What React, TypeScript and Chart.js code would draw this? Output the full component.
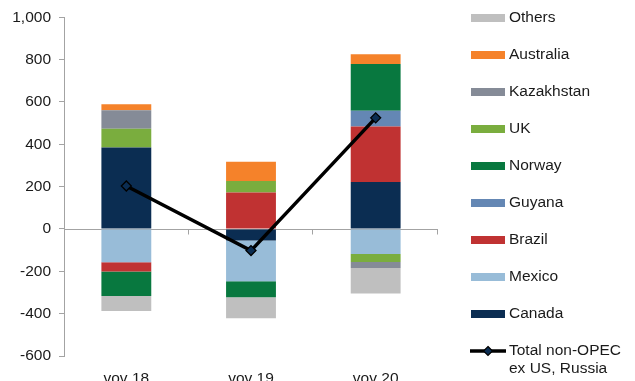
import { useEffect, useRef } from "react";
import { Chart, registerables } from "chart.js";

Chart.register(...registerables);

// Year-over-year change by country (kb/d)
const categories = ["vov 18", "vov 19", "vov 20"];
const canada = [385, -54, 222];
const mexico = [-157, -193, -118];
const brazil = [-44, 172, 262];
const guyana = [0, 0, 75];
const norway = [-115, -75, 220];
const uk = [88, 55, -38];
const kazakhstan = [88, 0, -28];
const australia = [28, 91, 47];
const others = [-71, -100, -121];
const totalNonOpec = [203, -102, 525];

const yTicks = [-600, -400, -200, 0, 200, 400, 600, 800, 1000];

const COLORS = {
  canada: "#0b2d52",
  mexico: "#98bcd8",
  brazil: "#c03232",
  guyana: "#6487b4",
  norway: "#08783f",
  uk: "#7aad3e",
  kazakhstan: "#858b97",
  australia: "#f5822a",
  others: "#bfbfbf",
};

const FONT = "Liberation Sans, Arial, sans-serif";
const FONT_SIZE = 15.5;
const TEXT = "#1a1a1a";
const AXIS = "#a3a3a3";

const barSeries = [
  { label: "Canada", data: canada, color: COLORS.canada },
  { label: "Mexico", data: mexico, color: COLORS.mexico },
  { label: "Brazil", data: brazil, color: COLORS.brazil },
  { label: "Guyana", data: guyana, color: COLORS.guyana },
  { label: "Norway", data: norway, color: COLORS.norway },
  { label: "UK", data: uk, color: COLORS.uk },
  { label: "Kazakhstan", data: kazakhstan, color: COLORS.kazakhstan },
  { label: "Australia", data: australia, color: COLORS.australia },
  { label: "Others", data: others, color: COLORS.others },
];

// Zero line across the plot with small category divider ticks
const zeroLinePlugin = {
  id: "zeroLine",
  beforeDatasetsDraw(chart: any) {
    const { ctx, chartArea, scales } = chart;
    const y0 = Math.round(scales.y.getPixelForValue(0)) + 0.5;
    ctx.save();
    ctx.strokeStyle = AXIS;
    ctx.lineWidth = 1;
    ctx.beginPath();
    ctx.moveTo(chartArea.left, y0);
    ctx.lineTo(chartArea.right, y0);
    const n = categories.length;
    const step = (chartArea.right - chartArea.left) / n;
    for (let i = 1; i <= n; i++) {
      const x = Math.round(chartArea.left + step * i) - 0.5;
      ctx.moveTo(x, y0);
      ctx.lineTo(x, y0 + 5);
    }
    ctx.stroke();
    ctx.restore();
  },
};

// Legend drawn at the right, top to bottom
const legendPlugin = {
  id: "sideLegend",
  afterDraw(chart: any) {
    const { ctx } = chart;
    const x0 = 471;
    const sw = 34;
    const tx = 509;
    const top = 18;
    const gap = 37;
    const items = [...barSeries].reverse();
    ctx.save();
    ctx.font = `${FONT_SIZE}px ${FONT}`;
    ctx.textBaseline = "middle";
    ctx.fillStyle = TEXT;
    items.forEach((it, i) => {
      const y = top + gap * i;
      ctx.fillStyle = it.color;
      ctx.fillRect(x0, y - 4, sw, 8);
      ctx.fillStyle = TEXT;
      ctx.fillText(it.label, tx, y);
    });
    const yl = top + gap * items.length;
    ctx.strokeStyle = "#000";
    ctx.lineWidth = 3.5;
    ctx.beginPath();
    ctx.moveTo(x0 - 1, yl);
    ctx.lineTo(x0 + sw + 1, yl);
    ctx.stroke();
    const cx = x0 + sw / 2;
    const r = 4.5;
    ctx.beginPath();
    ctx.moveTo(cx, yl - r);
    ctx.lineTo(cx + r, yl);
    ctx.lineTo(cx, yl + r);
    ctx.lineTo(cx - r, yl);
    ctx.closePath();
    ctx.fillStyle = COLORS.canada;
    ctx.fill();
    ctx.lineWidth = 1.2;
    ctx.stroke();
    ctx.fillStyle = TEXT;
    ctx.fillText("Total non-OPEC", tx, yl);
    ctx.fillText("ex US, Russia", tx, yl + 18);
    ctx.restore();
  },
};

export default function App() {
  const ref = useRef<HTMLCanvasElement | null>(null);

  useEffect(() => {
    if (!ref.current) return;
    const chart = new Chart(ref.current, {
      type: "bar",
      data: {
        labels: categories,
        datasets: [
          {
            type: "line",
            label: "Total non-OPEC ex US, Russia",
            data: totalNonOpec,
            borderColor: "#000",
            borderWidth: 3.5,
            pointStyle: "rectRot",
            pointRadius: 5,
            pointBackgroundColor: COLORS.canada,
            pointBorderColor: "#000",
            pointBorderWidth: 1.3,
            stack: "total",
            order: 0,
            tension: 0,
          } as any,
          ...barSeries.map((s) => ({
            type: "bar",
            label: s.label,
            data: s.data,
            backgroundColor: s.color,
            borderWidth: 0,
            stack: "countries",
            order: 1,
            categoryPercentage: 0.4,
            barPercentage: 1,
          })),
        ],
      },
      options: {
        responsive: false,
        animation: false,
        layout: { padding: { top: 17, right: 197, bottom: 0, left: 0 } },
        plugins: {
          legend: { display: false },
          tooltip: { enabled: false },
        },
        scales: {
          x: {
            stacked: true,
            grid: { display: false },
            border: { display: false },
            ticks: {
              color: TEXT,
              font: { family: FONT, size: FONT_SIZE },
              padding: 5,
              maxRotation: 0,
            },
            afterFit(scale: any) {
              scale.height = 25;
            },
          },
          y: {
            stacked: true,
            min: -600,
            max: 1000,
            afterBuildTicks(scale: any) {
              scale.ticks = yTicks.map((v) => ({ value: v }));
            },
            grid: {
              drawOnChartArea: false,
              drawTicks: true,
              tickLength: 5,
              color: AXIS,
            },
            border: { display: true, color: AXIS },
            ticks: {
              color: TEXT,
              font: { family: FONT, size: FONT_SIZE },
              padding: 8,
              callback: (v: any) => Number(v).toLocaleString("en-US"),
            },
            afterFit(scale: any) {
              scale.width = 64;
            },
          },
        },
      },
      plugins: [zeroLinePlugin, legendPlugin],
    });
    return () => chart.destroy();
  }, []);

  return (
    <div style={{ position: "fixed", left: 0, top: 0, width: 635, height: 381, background: "#fff" }}>
      <canvas ref={ref} width={635} height={381} style={{ display: "block" }} />
    </div>
  );
}
